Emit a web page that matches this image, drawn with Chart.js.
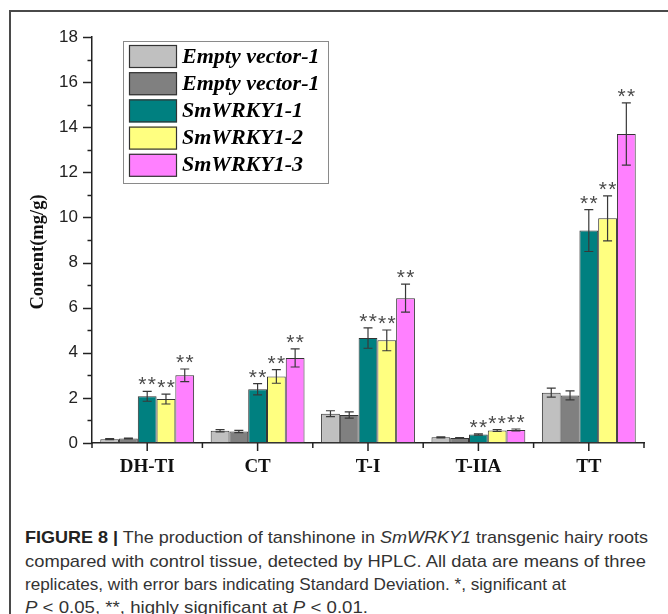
<!DOCTYPE html>
<html><head><meta charset="utf-8">
<script src="https://cdn.jsdelivr.net/npm/chart.js@4.4.0/dist/chart.umd.min.js"></script>
<style>
html,body{margin:0;padding:0;background:#fff;}
#wrap{position:relative;width:668px;height:614px;overflow:hidden;background:#fff;}
#frame{position:absolute;left:9px;top:10px;width:720px;height:720px;border-left:2px solid #4a4a4a;border-top:2px solid #4a4a4a;}
#cbox{position:absolute;left:0;top:0;width:668px;height:490px;}
.cap{position:absolute;left:25px;font-family:'Liberation Sans',Arial,sans-serif;font-size:17px;color:#333;white-space:nowrap;transform-origin:0 0;line-height:20px;}
.cap b{color:#222;}
</style></head>
<body><div id="wrap"><div id="frame"></div>
<div id="cbox"><canvas id="cv" width="668" height="490"></canvas></div>
<div class="cap" id="l1" style="top:528px"><b>FIGURE 8 |</b> The production of tanshinone in <i>SmWRKY1</i> transgenic hairy roots</div>
<div class="cap" id="l2" style="top:552px">compared with control tissue, detected by HPLC. All data are means of three</div>
<div class="cap" id="l3" style="top:575px">replicates, with error bars indicating Standard Deviation. *, significant at</div>
<div class="cap" id="l4" style="top:598px"><i>P</i> &lt; 0.05, **, highly significant at <i>P</i> &lt; 0.01.</div>
</div>
<script>
const categories = ['DH-TI', 'CT', 'T-I', 'T-IIA', 'TT'];
const seriesNames = ['Empty vector-1', 'Empty vector-1', 'SmWRKY1-1', 'SmWRKY1-2', 'SmWRKY1-3'];
const seriesColors = ['#c0c0c0', '#808080', '#008080', '#ffff80', '#ff80ff'];

const ev1 = [0.17, 0.54, 1.30, 0.25, 2.23];
const ev1Err = [0.02, 0.05, 0.13, 0.02, 0.20];
const ev2 = [0.20, 0.51, 1.24, 0.22, 2.11];
const ev2Err = [0.02, 0.05, 0.14, 0.02, 0.20];
const s1 = [2.07, 2.38, 4.65, 0.38, 9.42];
const s1Err = [0.22, 0.25, 0.45, 0.03, 0.93];
const s2 = [1.95, 2.95, 4.55, 0.55, 9.96];
const s2Err = [0.22, 0.30, 0.46, 0.04, 1.00];
const s3 = [3.00, 3.77, 6.42, 0.58, 13.70];
const s3Err = [0.28, 0.40, 0.62, 0.04, 1.38];

const ev1Sig = ['', '', '', '', ''];
const ev2Sig = ['', '', '', '', ''];
const s1Sig = ['**', '**', '**', '**', '**'];
const s2Sig = ['**', '**', '**', '**', '**'];
const s3Sig = ['**', '**', '**', '**', '**'];

const yTickValues = [0, 2, 4, 6, 8, 10, 12, 14, 16, 18];

const values = [ev1, ev2, s1, s2, s3];
const errors = [ev1Err, ev2Err, s1Err, s2Err, s3Err];
const sigs = [ev1Sig, ev2Sig, s1Sig, s2Sig, s3Sig];

const extras = {
  id: 'extras',
  afterDatasetsDraw(chart) {
    const ctx = chart.ctx;
    const y = chart.scales.y, x = chart.scales.x;
    const ca = chart.chartArea;
    ctx.save();
    values.forEach((vals, i) => {
      const meta = chart.getDatasetMeta(i);
      meta.data.forEach((el, j) => {
        const v = vals[j], e = errors[i][j];
        const yt = y.getPixelForValue(v + e);
        const yb = y.getPixelForValue(v - e);
        ctx.strokeStyle = '#383838';
        ctx.lineWidth = 1.2;
        ctx.beginPath();
        ctx.moveTo(el.x, yt); ctx.lineTo(el.x, yb);
        ctx.moveTo(el.x - 4.5, yt); ctx.lineTo(el.x + 4.5, yt);
        ctx.moveTo(el.x - 4.5, yb); ctx.lineTo(el.x + 4.5, yb);
        ctx.stroke();
        const s = sigs[i][j];
        if (s) {
          ctx.fillStyle = '#4a4a4a';
          ctx.font = '21px "Liberation Sans"';
          ctx.textAlign = 'center';
          ctx.textBaseline = 'alphabetic';
          const n = s.length;
          for (let k = 0; k < n; k++) {
            const cx = el.x + (k - (n - 1) / 2) * 9.5;
            ctx.fillText('*', cx, yt - 12 + 12);
          }
        }
      });
    });
    ctx.strokeStyle = '#222';
    ctx.lineWidth = 1.5;
    for (let v = y.min; v <= y.max; v += 1) {
      const py = Math.round(y.getPixelForValue(v)) + 0.5;
      const len = (v % 2 === 0) ? 9 : 4.5;
      ctx.beginPath();
      ctx.moveTo(ca.left - len, py); ctx.lineTo(ca.left, py);
      ctx.stroke();
    }
    const n = categories.length;
    for (let i = 0; i < n; i++) {
      const px = x.getPixelForValue(i);
      ctx.beginPath(); ctx.moveTo(px, ca.bottom); ctx.lineTo(px, ca.bottom + 8); ctx.stroke();
    }
    for (let i = 0; i <= n; i++) {
      let px;
      if (i === 0) px = ca.left; else if (i === n) px = ca.right;
      else px = (x.getPixelForValue(i - 1) + x.getPixelForValue(i)) / 2;
      ctx.beginPath(); ctx.moveTo(px, ca.bottom); ctx.lineTo(px, ca.bottom + 5); ctx.stroke();
    }
    ctx.save();
    ctx.translate(38, 252);
    ctx.rotate(-Math.PI / 2);
    ctx.fillStyle = '#111';
    ctx.font = 'bold 18.5px "Liberation Serif"';
    ctx.textAlign = 'center';
    ctx.textBaseline = 'middle';
    ctx.fillText('Content(mg/g)', 0, 0);
    ctx.restore();
    const lx = 123, ly = 41, lw = 205, lh = 142;
    ctx.fillStyle = '#fff';
    ctx.fillRect(lx, ly, lw, lh);
    ctx.strokeStyle = '#8a8a8a';
    ctx.lineWidth = 1;
    ctx.strokeRect(lx + 0.5, ly + 0.5, lw, lh);
    chart.data.datasets.forEach((ds, i) => {
      const sy = 45 + i * 27.2;
      ctx.fillStyle = ds.backgroundColor;
      ctx.fillRect(129, sy, 48, 23);
      ctx.strokeStyle = '#333';
      ctx.lineWidth = 1.2;
      ctx.strokeRect(129.5, sy + 0.5, 47, 22);
      ctx.fillStyle = '#000';
      ctx.font = 'italic bold 22px "Liberation Serif"';
      ctx.textAlign = 'left';
      ctx.textBaseline = 'middle';
      ctx.fillText(ds.label, 182, sy + 12);
    });
    ctx.restore();
  }
};

new Chart(document.getElementById('cv'), {
  type: 'bar',
  data: {
    labels: categories,
    datasets: values.map((vals, i) => ({
      label: seriesNames[i],
      data: vals,
      backgroundColor: seriesColors[i],
      borderColor: '#333',
      borderWidth: 1,
      borderSkipped: false,
      categoryPercentage: 0.85,
      barPercentage: 1.0
    }))
  },
  options: {
    responsive: false,
    animation: false,
    devicePixelRatio: 1,
    layout: { padding: { top: 37, right: 24, left: 0, bottom: 0 } },
    plugins: { legend: { display: false }, tooltip: { enabled: false } },
    scales: {
      x: {
        grid: { display: false, drawTicks: false },
        border: { display: true, color: '#222', width: 1.5 },
        ticks: { padding: 13, color: '#111', font: { family: 'Liberation Serif', size: 19, weight: 'bold' } },
        afterFit(s) { s.height = 47; }
      },
      y: {
        min: 0, max: 18,
        afterBuildTicks(s) { s.ticks = yTickValues.map(v => ({ value: v })); },
        grid: { display: false, drawTicks: false },
        border: { display: true, color: '#222', width: 1.5 },
        ticks: { padding: 14, color: '#222', font: { family: 'Liberation Sans', size: 17 } },
        afterFit(s) { s.width = 92; }
      }
    }
  },
  plugins: [extras]
});

const targets = { l1: 623, l2: 621, l3: 541, l4: 343 };
Object.keys(targets).forEach(id => {
  const el = document.getElementById(id);
  const w = el.getBoundingClientRect().width;
  el.style.transform = 'scaleX(' + (targets[id] / w) + ')';
});
</script>
</body></html>
